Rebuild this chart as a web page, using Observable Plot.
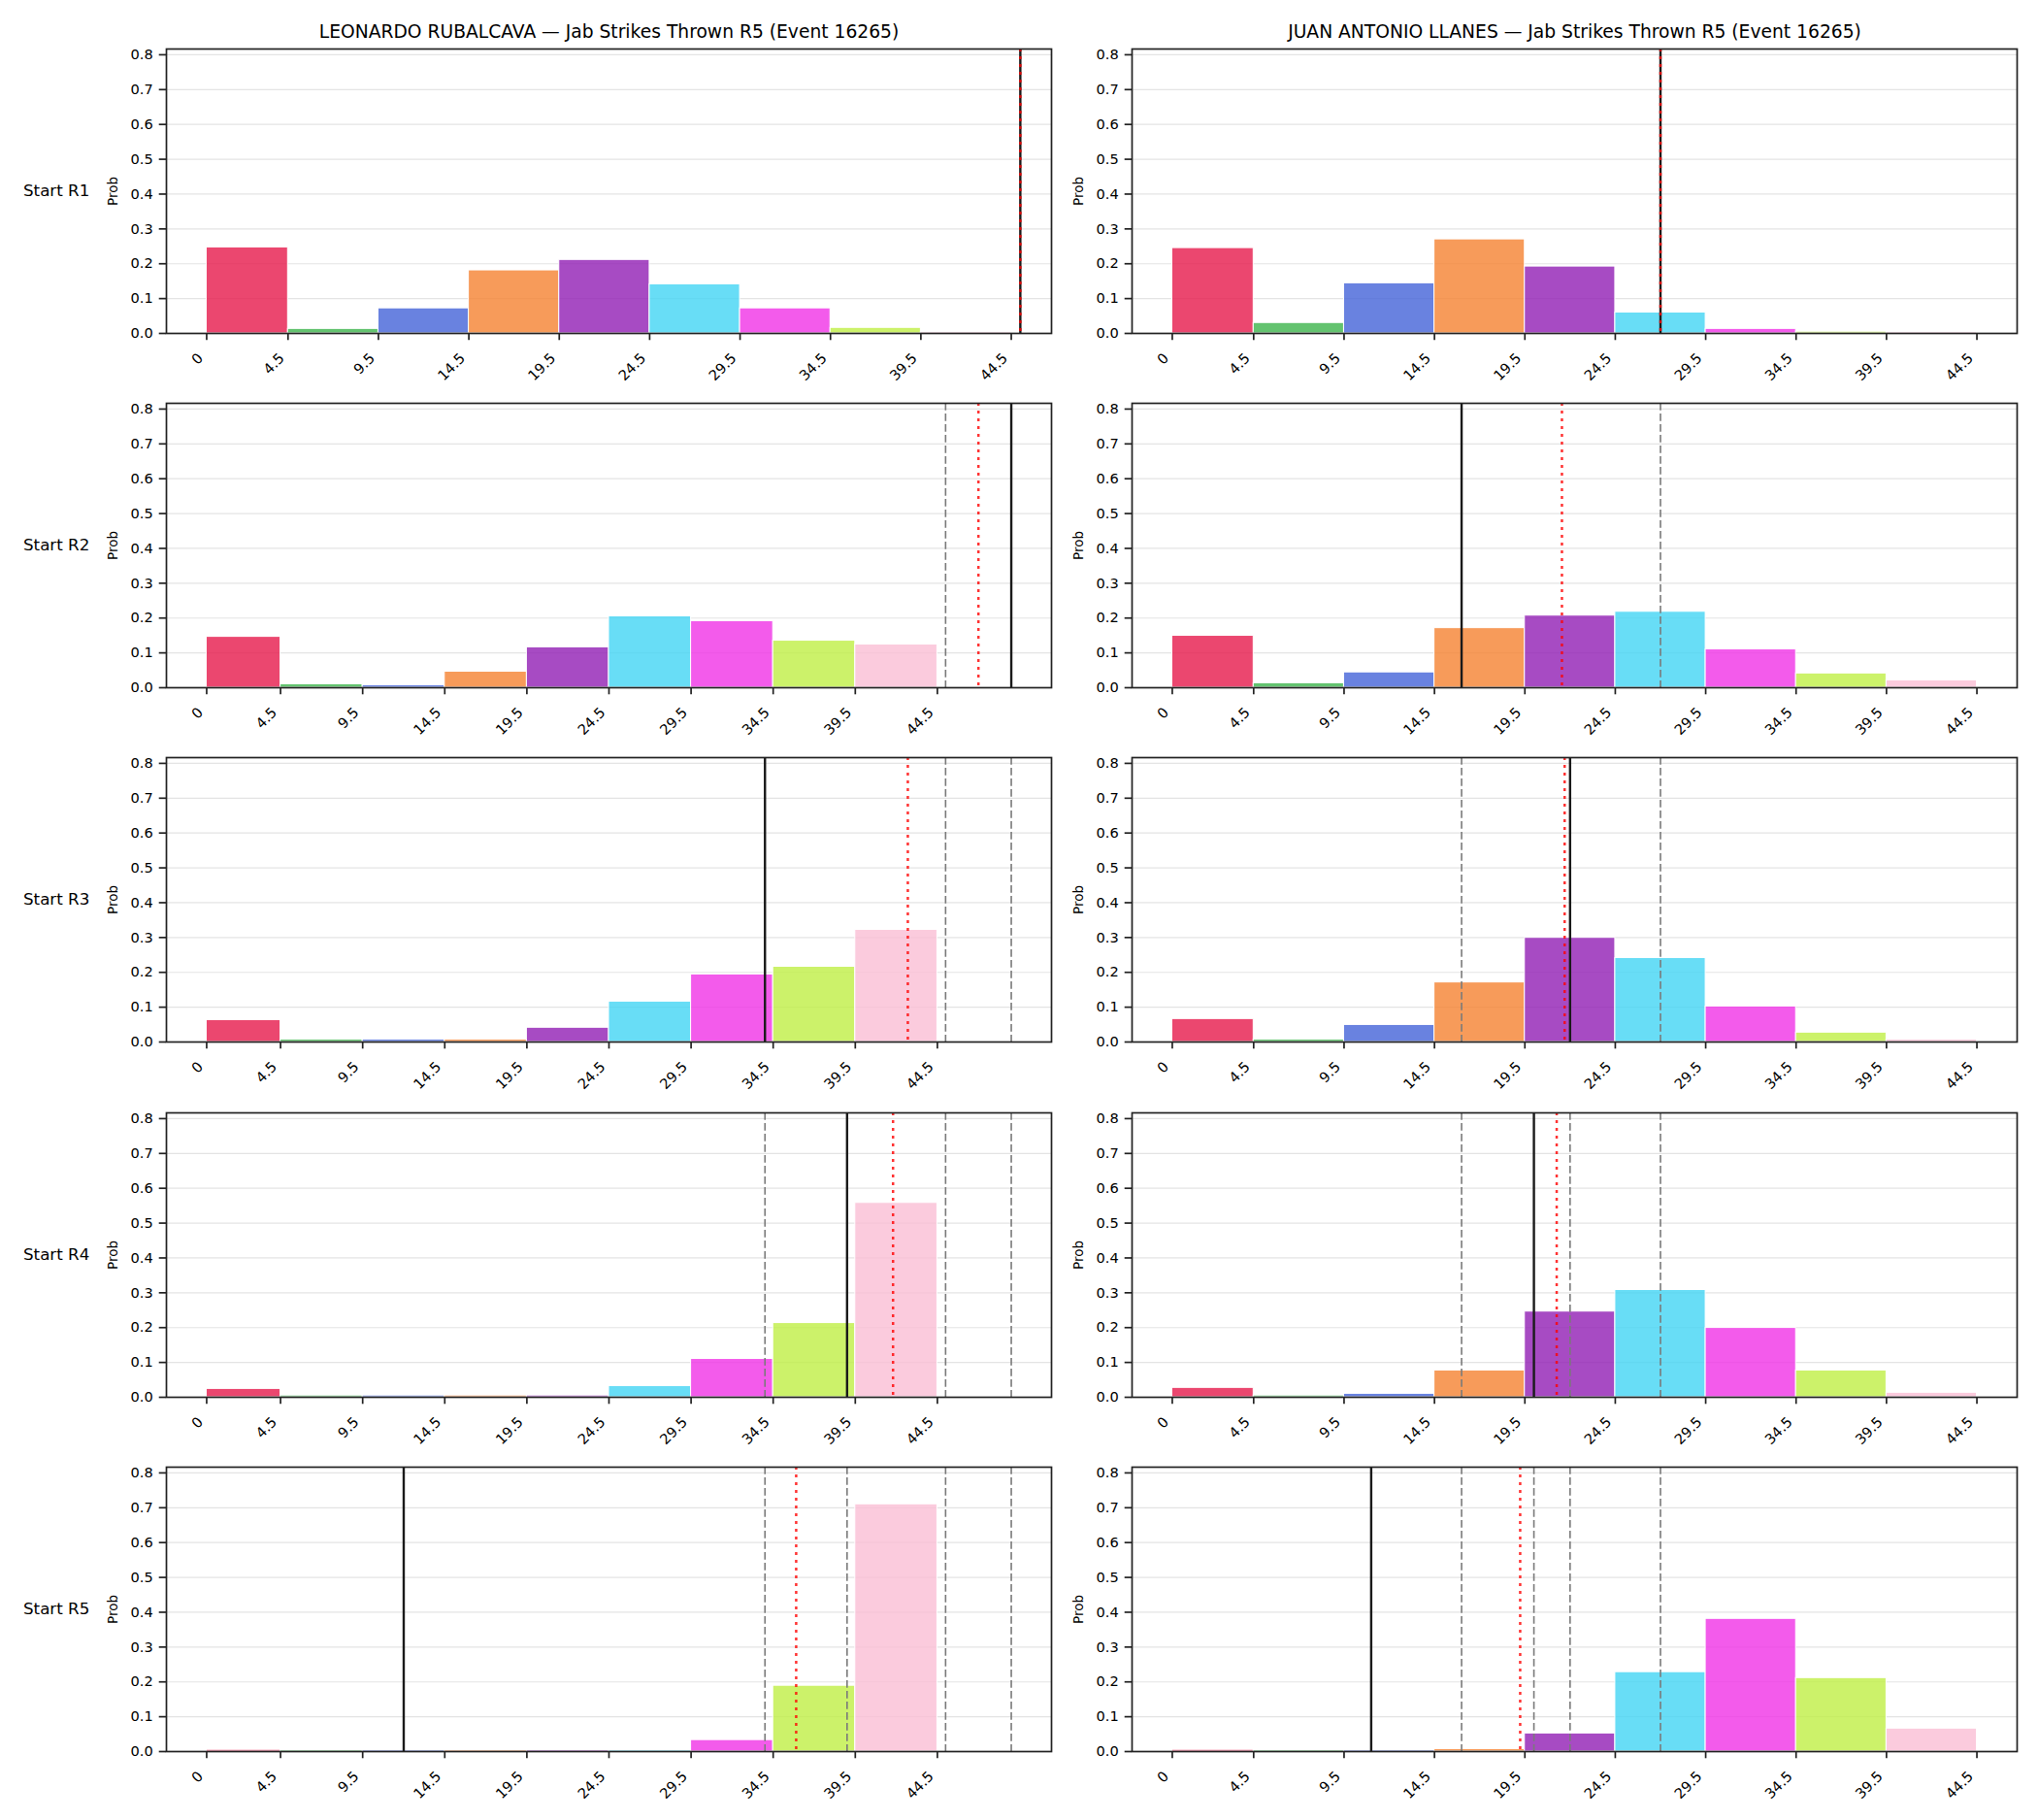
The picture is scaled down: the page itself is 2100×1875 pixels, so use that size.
<!DOCTYPE html>
<html><head><meta charset="utf-8">
<script src="https://cdn.jsdelivr.net/npm/d3@7"></script>
<script src="https://cdn.jsdelivr.net/npm/@observablehq/plot@0.6"></script>
<style>
html,body{margin:0;padding:0;background:#fff;}
#chart{position:relative;width:2100px;height:1875px;overflow:hidden;background:#fff;}
.panel{position:absolute;}
.panel svg{display:block;}
</style></head><body><div id="chart"></div>
<script>
// ---------- data ----------
const fighters = ["LEONARDO RUBALCAVA", "JUAN ANTONIO LLANES"];
const titleSuffix = " — Jab Strikes Thrown R5 (Event 16265)";
const rounds = ["Start R1", "Start R2", "Start R3", "Start R4", "Start R5"];
const binEdges = [0, 4.5, 9.5, 14.5, 19.5, 24.5, 29.5, 34.5, 39.5, 44.5];
const binColors = ["#e6194b", "#3cb44b", "#4363d8", "#f58231", "#911eb4", "#42d4f4", "#f032e6", "#bfef45", "#fabed4"];
const xTicks = [0, 4.5, 9.5, 14.5, 19.5, 24.5, 29.5, 34.5, 39.5, 44.5];
const xTickLabels = ["0", "4.5", "9.5", "14.5", "19.5", "24.5", "29.5", "34.5", "39.5", "44.5"];
const yTicks = [0, 0.1, 0.2, 0.3, 0.4, 0.5, 0.6, 0.7, 0.8];

const leftProbs = [
  [0.247, 0.013, 0.072, 0.181, 0.211, 0.141, 0.072, 0.016, 0.004],
  [0.146, 0.010, 0.007, 0.046, 0.116, 0.205, 0.191, 0.135, 0.124],
  [0.063, 0.007, 0.007, 0.007, 0.041, 0.116, 0.194, 0.216, 0.322],
  [0.024, 0.005, 0.005, 0.005, 0.005, 0.032, 0.110, 0.213, 0.558],
  [0.005, 0.004, 0.004, 0.004, 0.004, 0.004, 0.033, 0.189, 0.710]
];
const rightProbs = [
  [0.245, 0.030, 0.144, 0.270, 0.192, 0.060, 0.013, 0.005, 0.004],
  [0.149, 0.013, 0.044, 0.171, 0.207, 0.218, 0.110, 0.041, 0.021],
  [0.066, 0.007, 0.049, 0.171, 0.299, 0.241, 0.102, 0.027, 0.007],
  [0.027, 0.005, 0.010, 0.077, 0.246, 0.308, 0.199, 0.077, 0.013],
  [0.005, 0.004, 0.004, 0.007, 0.052, 0.228, 0.381, 0.211, 0.066]
];
// actual value (solid black) per start round; earlier ones are shown dashed
const leftActual = [45, 49, 34, 39, 12];
const rightActual = [27, 16, 22, 20, 11];
// red dotted marker per start round
const leftMean = [45, 47, 42.7, 41.8, 35.9];
const rightMean = [27, 21.55, 21.7, 21.26, 19.24];

// ---------- layout ----------
const FRAME_W = 912, FRAME_H = 293;
const colX = [170.5, 1166];
const rowY = r => 50 + 365.2 * r;
const allMax = d3.max([...leftProbs.flat(), ...rightProbs.flat()]);
const yMax = allMax * 1.15;

const chart = document.getElementById("chart");

function panel(col, row) {
  const probs = (col === 0 ? leftProbs : rightProbs)[row];
  const actualAll = col === 0 ? leftActual : rightActual;
  const red = (col === 0 ? leftMean : rightMean)[row];
  const actual = actualAll[row];
  const prev = actualAll.slice(0, row);
  const bins = probs.map((p, i) => ({x1: binEdges[i], x2: binEdges[i + 1], p, color: binColors[i]}));
  const base = binEdges[binEdges.length - 1];
  const lines = [...prev, actual, red];
  const hi = lines.some(v => v > base * 1.05) ? Math.max(base, ...lines) : base;

  const ML = col === 0 ? 160 : 80, MR = 12, MT = row === 0 ? 50 : 12, MB = 70;
  const W = ML + FRAME_W + MR, H = MT + FRAME_H + MB;

  const marks = [
    Plot.gridY(yTicks.slice(1), {stroke: "#e4e4e4", strokeOpacity: 1, strokeWidth: 1.2}),
    Plot.rectY(bins, {x1: "x1", x2: "x2", y: "p", fill: "color", fillOpacity: 0.8, stroke: "#ffffff", strokeWidth: 1, inset: 0}),
    Plot.ruleX(prev, {stroke: "#7a7a7a", strokeWidth: 1.6, strokeDasharray: "7.7,3.3"}),
    Plot.ruleX([actual], {stroke: "#1a1a1a", strokeWidth: 2.4}),
    Plot.ruleX([red], {stroke: "#ff0000", strokeOpacity: 0.8, strokeWidth: 2.5, strokeDasharray: "3,5"}),
    Plot.frame({stroke: "#222", strokeWidth: 1.7}),
    Plot.axisY({ticks: yTicks, tickFormat: d3.format(".1f"), tickSize: 7.3, tickPadding: 6.5, stroke: "#222", strokeWidth: 1.7, label: null, fontSize: 14.6}),
    Plot.axisX({ticks: xTicks, tickSize: 7.3, tickFormat: () => "", stroke: "#222", strokeWidth: 1.7, label: null}),
    Plot.text(xTicks, {x: d => d, frameAnchor: "bottom", text: (d, i) => xTickLabels[i], rotate: -45, textAnchor: "end", lineAnchor: "bottom", dx: -3, dy: 26.5, fontSize: 14.6}),
    Plot.text(["Prob"], {frameAnchor: "left", text: d => d, rotate: -90, textAnchor: "middle", dx: -54.5, fontSize: 13.5})
  ];
  if (row === 0) {
    marks.push(Plot.text([fighters[col] + titleSuffix], {frameAnchor: "top", text: d => d, lineAnchor: "bottom", dy: -12, fontSize: 18.7}));
  }
  if (col === 0) {
    marks.push(Plot.text([rounds[row]], {frameAnchor: "left", text: d => d, textAnchor: "start", dx: 23 - colX[0], fontSize: 16.7}));
  }

  const svg = Plot.plot({
    width: W, height: H,
    marginLeft: ML, marginRight: MR, marginTop: MT, marginBottom: MB,
    x: {domain: [-0.05 * hi, 1.05 * hi], axis: null},
    y: {domain: [0, yMax], axis: null},
    color: {type: "identity"},
    style: {fontFamily: "DejaVu Sans", fontSize: "14.6px", background: "transparent", overflow: "visible", maxWidth: "none", color: "#000"},
    marks
  });
  const div = document.createElement("div");
  div.className = "panel";
  div.style.left = (colX[col] - ML) + "px";
  div.style.top = (rowY(row) - MT) + "px";
  div.style.width = W + "px";
  div.style.height = H + "px";
  div.appendChild(svg);
  chart.appendChild(div);
}

for (let r = 0; r < 5; r++) for (let c = 0; c < 2; c++) panel(c, r);
</script></body></html>
